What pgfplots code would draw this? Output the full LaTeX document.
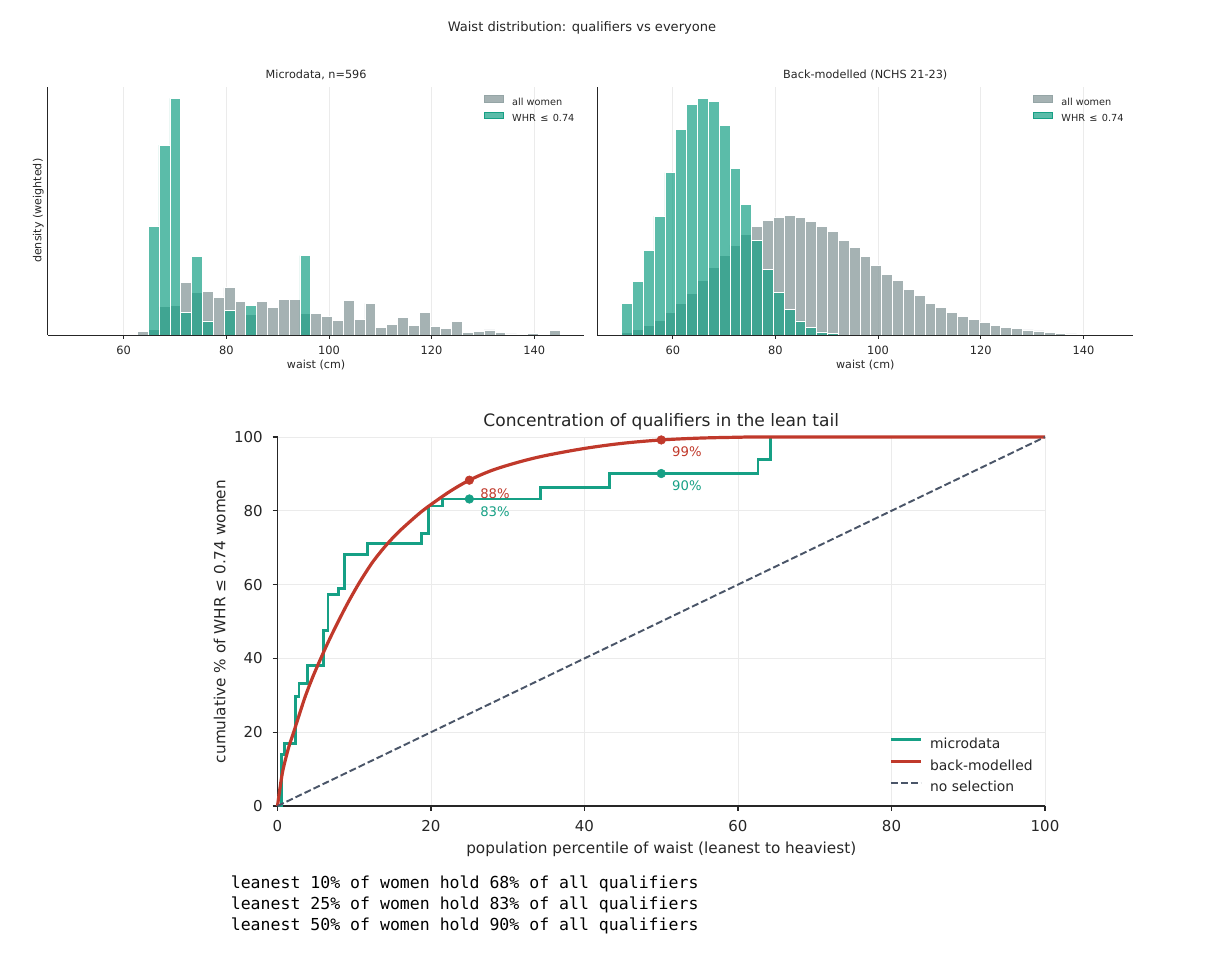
\documentclass[border=0pt]{standalone}
\usepackage{pgfplots}
\pgfplotsset{compat=1.18}
\usepackage{fontspec}
\setmainfont{DejaVu Sans}
\newfontfamily\mono{DejaVu Sans Mono}
\definecolor{greyc}{HTML}{95A5A6}
\definecolor{tealc}{HTML}{16A085}
\definecolor{redc}{HTML}{C0392B}
\definecolor{slatec}{HTML}{4A5568}
\definecolor{gridc}{HTML}{EBEBEB}
\definecolor{txt}{HTML}{262626}
\pgfplotsset{
  tophist/.style={
    anchor=south west, scale only axis, width=386.2pt, height=178.9pt,
    xmin=45.25, xmax=149.75, ymin=0, ymax=745.5,
    axis x line*=bottom, axis y line*=left,
    xtick={60,80,100,120,140}, ytick=\empty,
    tick align=outside, major tick length=2.8pt,
    xmajorgrids, grid style={gridc, line width=0.6pt},
    axis line style={line width=0.6pt, txt},
    tick style={line width=0.6pt, txt},
    /pgf/number format/assume math mode=true,
    xticklabel style={font=\fontsize{8.2}{10}\selectfont, text=txt, anchor=base, inner sep=0pt, yshift=-11.6pt},
    xlabel={waist (cm)},
    xlabel style={at={(axis description cs:0.5,0)}, anchor=base, inner sep=0pt, yshift=-23.8pt, font=\fontsize{8}{10}\selectfont, text=txt},
    title style={at={(axis description cs:0.5,1)}, anchor=base, inner sep=0pt, yshift=-0.4pt, font=\fontsize{8.1}{10}\selectfont, text=txt},
    legend style={at={(axis description cs:1,1)}, anchor=north east, xshift=-6.9pt, yshift=-6.1pt,
      draw=none, fill=none, inner sep=0pt, row sep=3.0pt,
      font=\fontsize{7}{8.4}\selectfont, text=txt,
      nodes={inner sep=0pt, text height=5.5pt, text depth=1.5pt},
      /tikz/every odd column/.append style={column sep=6.5pt}},
    legend cell align=left,
  },
  greybar/.style={ybar, bar width=2.1111, bar shift=0pt, fill=greyc, fill opacity=0.85, draw=white, line width=0.4pt,
    legend image code/.code={\fill[greyc, fill opacity=0.85] (0pt,0pt) rectangle (13.7pt,5pt);}},
  tealbar/.style={ybar, bar width=2.1111, bar shift=0pt, fill=tealc, fill opacity=0.7, draw=white, line width=0.4pt,
    legend image code/.code={\fill[tealc, fill opacity=0.7] (0pt,0pt) rectangle (13.7pt,5pt);}},
}
\begin{document}
\begin{tikzpicture}
\path[use as bounding box] (0,0) rectangle (868.32pt,-689.76pt);
\node[anchor=base, font=\fontsize{9.4}{11}\selectfont, text=txt, inner sep=0pt] at (419pt,-22.8pt) {Waist distribution: qualifiers vs everyone};

% ---------- top left ----------
\begin{axis}[tophist, at={(34.49pt,-241.2pt)},
  title={Microdata, n=596},
  ylabel={density (weighted)},
  ylabel style={at={([xshift=-4.7pt]axis description cs:0,0.5)}, anchor=base, inner sep=0pt, font=\fontsize{8}{10}\selectfont, text=txt},
]
\addplot[greybar] coordinates {
(63.72,10) (65.83,17) (67.94,85) (70.06,89) (72.17,158) (74.28,129) (76.39,131) (78.50,113)
(80.61,142) (82.72,101) (84.83,62) (86.94,101) (89.06,83) (91.17,108) (93.28,108) (95.39,65)
(97.50,65) (99.61,56) (101.72,45) (103.83,105) (105.94,47) (108.06,95) (110.17,22) (112.28,32)
(114.39,52) (116.50,29) (118.61,69) (120.72,25) (122.83,20) (124.94,40) (127.06,8) (129.17,11)
(131.28,15) (133.39,8) (135.50,3) (137.61,2) (139.72,4) (143.94,13)};
\addlegendentry{all women}
\addplot[tealbar] coordinates {
(65.83,327) (67.94,570) (70.06,710) (72.17,68) (74.28,236) (76.39,42) (80.61,73) (84.83,88) (95.39,238)};
\addlegendentry{WHR\hspace{0.45em}≤\hspace{0.45em}0.74}
\end{axis}

% ---------- top right ----------
\begin{axis}[tophist, at={(429.9pt,-241.2pt)},
  title={Back-modelled (NCHS 21-23)},
]
\addplot[greybar] coordinates {
(51.06,7) (53.17,17) (55.28,29) (57.39,45) (59.50,67) (61.61,95) (63.72,125) (65.83,163)
(67.94,202) (70.06,238) (72.17,270) (74.28,303) (76.39,327) (78.50,343) (80.61,353) (82.72,358)
(84.83,353) (86.94,342) (89.06,325) (91.17,312) (93.28,283) (95.39,263) (97.50,236) (99.61,209)
(101.72,182) (103.83,163) (105.94,136) (108.06,120) (110.17,95) (112.28,83) (114.39,68) (116.50,56)
(118.61,46) (120.72,37) (122.83,29) (124.94,23) (127.06,19) (129.17,15) (131.28,12) (133.39,8)
(135.50,5) (137.61,3) (139.72,2) (141.83,1) (143.94,1)};
\addlegendentry{all women}
\addplot[tealbar] coordinates {
(51.06,95) (53.17,162) (55.28,255) (57.39,357) (59.50,487) (61.61,617) (63.72,693) (65.83,710)
(67.94,700) (70.06,629) (72.17,499) (74.28,393) (76.39,285) (78.50,196) (80.61,127) (82.72,78)
(84.83,42) (86.94,22) (89.06,9) (91.17,4)};
\addlegendentry{WHR\hspace{0.45em}≤\hspace{0.45em}0.74}
\end{axis}

% ---------- bottom ----------
\begin{axis}[at={(199.8pt,-580.32pt)}, anchor=south west, scale only axis,
  width=552.6pt, height=265.68pt,
  xmin=0, xmax=100, ymin=0, ymax=100, clip=false,
  axis x line*=bottom, axis y line*=left,
  xtick={0,20,40,60,80,100}, ytick={0,20,40,60,80,100},
  tick align=outside, major tick length=3.5pt,
  grid=major, grid style={gridc, line width=0.7pt},
  axis line style={line width=0.8pt, txt}, tick style={line width=0.8pt, txt},
  /pgf/number format/assume math mode=true,
  xticklabel style={font=\fontsize{10.8}{13}\selectfont, text=txt, anchor=base, inner sep=0pt, yshift=-15pt},
  yticklabel style={font=\fontsize{10.8}{13}\selectfont, text=txt, anchor=east, inner sep=0pt, xshift=-7pt},
  title={Concentration of qualifiers in the lean tail},
  title style={at={(axis description cs:0.5,1)}, anchor=base, inner sep=0pt, yshift=1.7pt, font=\fontsize{12.3}{14}\selectfont, text=txt},
  xlabel={population percentile of waist (leanest to heaviest)},
  xlabel style={at={(axis description cs:0.5,0)}, anchor=base, inner sep=0pt, yshift=-34.3pt, font=\fontsize{11}{13}\selectfont, text=txt},
  ylabel={cumulative \% of WHR ≤ 0.74 women},
  ylabel style={at={([xshift=-37.5pt]axis description cs:0,0.5)}, anchor=base, inner sep=0pt, font=\fontsize{11}{13}\selectfont, text=txt},
  legend style={at={(axis description cs:1,0)}, anchor=south east, xshift=-8.7pt, yshift=8.3pt,
    draw=none, fill=none, inner sep=0pt, row sep=5.8pt,
    font=\fontsize{10}{12}\selectfont, text=txt,
    nodes={inner sep=0pt, text height=7.6pt, text depth=2pt},
    /tikz/every odd column/.append style={column sep=5.6pt}},
  legend cell align=left,
]
\addplot[draw=tealc, line width=2.1pt,
  legend image code/.code={\draw[tealc, line width=2.1pt] (0pt,3.6pt) -- (21.6pt,3.6pt);}] coordinates {
(0,0) (0.5,0) (0.5,14.0) (0.93,14.0) (0.93,16.9) (2.32,16.9) (2.32,29.6) (2.8,29.6) (2.8,33.2)
(3.89,33.2) (3.89,38.1) (5.97,38.1) (5.97,47.5) (6.58,47.5) (6.58,57.2) (8.0,57.2) (8.0,59.0)
(8.75,59.0) (8.75,68.2) (11.75,68.2) (11.75,71.2) (18.8,71.2) (18.8,73.9) (19.65,73.9) (19.65,81.3)
(21.5,81.3) (21.5,83.2) (34.3,83.2) (34.3,86.4) (43.3,86.4) (43.3,90.1) (62.6,90.1) (62.6,94.0)
(64.2,94.0) (64.2,100) (100,100)};
\addlegendentry{microdata}
\addplot[smooth, tension=0.55, draw=redc, line width=2.3pt,
  legend image code/.code={\draw[redc, line width=2.3pt] (0pt,3.6pt) -- (21.6pt,3.6pt);}] coordinates {
(0,0) (0.3,4.5) (0.63,8.9) (1.0,12.3) (1.5,16.2) (2.06,19.7) (3.0,25.8) (3.67,30.0) (4.6,35.0)
(5.62,39.9) (6.6,44.4) (7.58,48.6) (9.0,54.4) (10.4,59.6) (11.5,63.3) (12.5,66.4) (14,70.3)
(15.5,73.7) (17,76.6) (18.6,79.5) (20,81.7) (22.5,85.3) (25,88.3) (28,91.0) (31.6,93.3)
(35,95.0) (40,96.9) (45,98.3) (50,99.2) (55,99.7) (60,99.93) (65,100) (100,100)};
\addlegendentry{back-modelled}
\addplot[draw=slatec, line width=1.4pt, dash pattern=on 5pt off 2.2pt,
  legend image code/.code={\draw[slatec, line width=1.4pt, dash pattern=on 5pt off 2.2pt] (0pt,3.6pt) -- (21.6pt,3.6pt);}] coordinates {(0,0) (100,100)};
\addlegendentry{no selection}
\addplot[only marks, mark=*, mark size=3.1pt, tealc, forget plot] coordinates {(25,83.2) (50,90.1)};
\addplot[only marks, mark=*, mark size=3.1pt, redc, forget plot] coordinates {(25,88.3) (50,99.2)};
\node[anchor=west, text=redc, font=\fontsize{9.5}{11}\selectfont, inner sep=0pt] at ([xshift=7.7pt,yshift=-9.5pt]axis cs:25,88.3) {88\%};
\node[anchor=west, text=tealc, font=\fontsize{9.5}{11}\selectfont, inner sep=0pt] at ([xshift=7.7pt,yshift=-9pt]axis cs:25,83.2) {83\%};
\node[anchor=west, text=redc, font=\fontsize{9.5}{11}\selectfont, inner sep=0pt] at ([xshift=7.7pt,yshift=-8.5pt]axis cs:50,99.2) {99\%};
\node[anchor=west, text=tealc, font=\fontsize{9.5}{11}\selectfont, inner sep=0pt] at ([xshift=7.7pt,yshift=-8.9pt]axis cs:50,90.1) {90\%};
\end{axis}

\node[anchor=base west, inner sep=0pt, font=\mono\fontsize{11.9}{14}\selectfont, text=black] at (166pt,-639.6pt) {leanest 10\% of women hold 68\% of all qualifiers};
\node[anchor=base west, inner sep=0pt, font=\mono\fontsize{11.9}{14}\selectfont, text=black] at (166pt,-654.9pt) {leanest 25\% of women hold 83\% of all qualifiers};
\node[anchor=base west, inner sep=0pt, font=\mono\fontsize{11.9}{14}\selectfont, text=black] at (166pt,-670.3pt) {leanest 50\% of women hold 90\% of all qualifiers};
\end{tikzpicture}
\end{document}
